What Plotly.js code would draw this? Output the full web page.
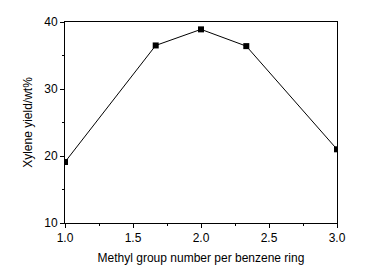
<!DOCTYPE html>
<html><head><meta charset="utf-8">
<script src="https://cdn.plot.ly/plotly-3.0.1.min.js"></script>
<style>body{margin:0;padding:0;background:#fff}#c{width:365px;height:278px}</style>
</head><body><div id="c"></div>
<script>
const methylNumber = [1.0, 1.667, 2.0, 2.333, 3.0];
const xyleneYield = [19.1, 36.5, 38.9, 36.4, 21.0];
const xTickVals = [1.0, 1.5, 2.0, 2.5, 3.0];
const xTickText = ['1.0', '1.5', '2.0', '2.5', '3.0'];
const yTickVals = [10, 20, 30, 40];

const fontFam = 'Liberation Sans, Arial, sans-serif';
Plotly.newPlot('c', [{
  x: methylNumber, y: xyleneYield, type: 'scatter', mode: 'lines+markers',
  line: {color: '#000', width: 1},
  marker: {symbol: 'square', size: 6, color: '#000'},
  cliponaxis: true
}], {
  width: 365, height: 278,
  margin: {l: 65, r: 28, t: 22, b: 55},
  paper_bgcolor: '#fff', plot_bgcolor: '#fff',
  showlegend: false,
  font: {family: fontFam, color: '#000', size: 12},
  xaxis: {
    range: [1.0, 3.0], tickvals: xTickVals, ticktext: xTickText,
    ticks: 'outside', ticklen: 4, tickwidth: 1, tickcolor: '#000',
    minor: {dtick: 0.25, tick0: 1.0, ticks: 'outside', ticklen: 2, tickcolor: '#000'},
    showline: true, linecolor: '#000', linewidth: 1, mirror: true,
    showgrid: false, zeroline: false,
    tickfont: {size: 12},
    title: {text: 'Methyl group number per benzene ring', font: {size: 12}, standoff: 9}
  },
  yaxis: {
    range: [10, 40], tickvals: yTickVals,
    ticks: 'outside', ticklen: 4, tickwidth: 1, tickcolor: '#000',
    minor: {dtick: 5, tick0: 10, ticks: 'outside', ticklen: 2, tickcolor: '#000'},
    showline: true, linecolor: '#000', linewidth: 1, mirror: true,
    showgrid: false, zeroline: false,
    tickfont: {size: 12},
    title: {text: 'Xylene yield/wt%', font: {size: 12}, standoff: 9}
  }
}, {staticPlot: true});
</script></body></html>
